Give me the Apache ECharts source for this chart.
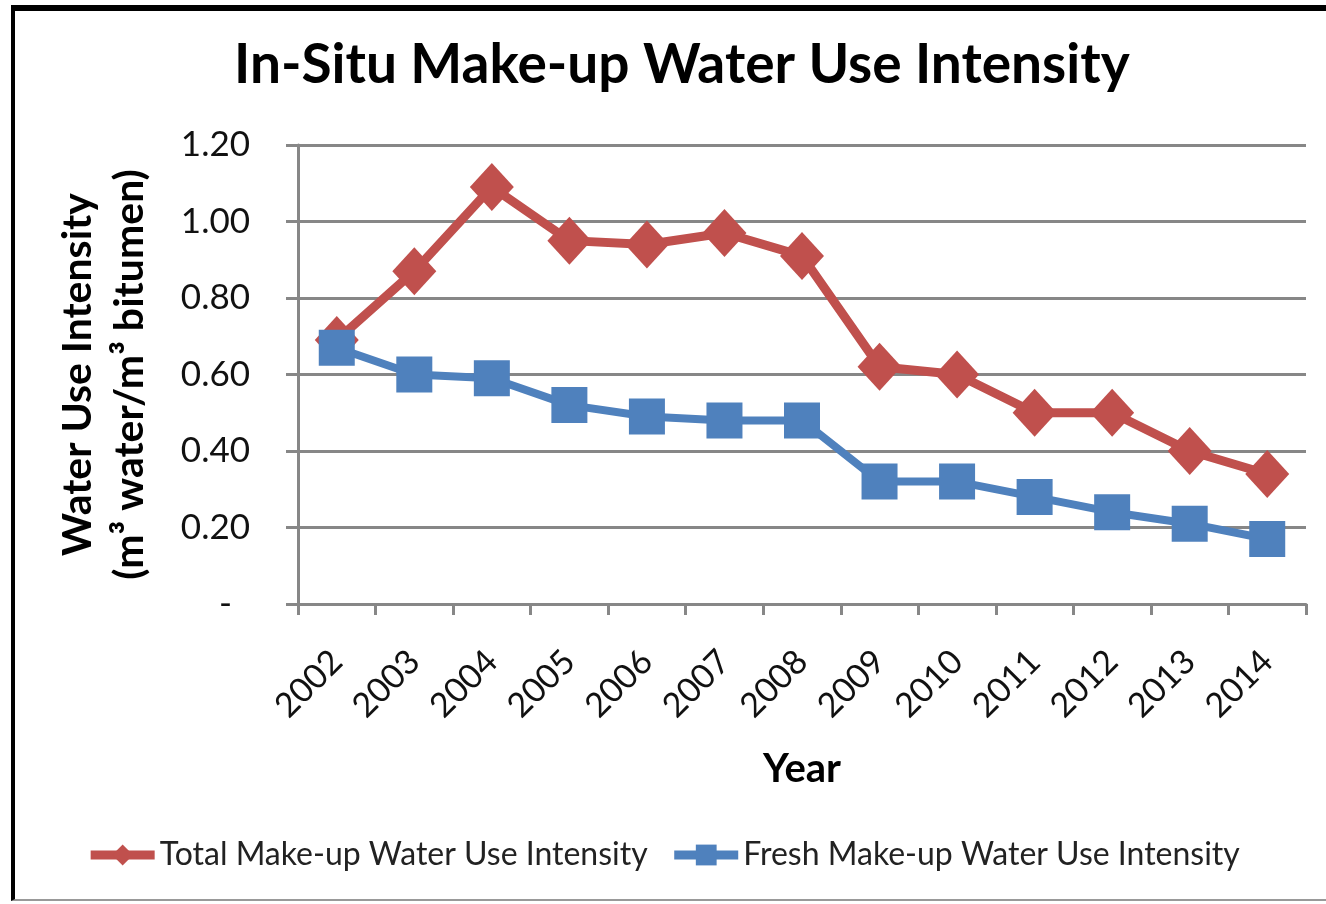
<!DOCTYPE html>
<html>
<head>
<meta charset="utf-8">
<script src="https://cdn.jsdelivr.net/npm/echarts@6/dist/echarts.min.js"></script>
<style>
  html, body { margin: 0; padding: 0; background: #fff; }
  #chart { position: absolute; left: 0; top: 0; width: 1326px; height: 904px; }
  .frame {
    position: absolute; left: 11px; top: 5px; width: 1315px; height: 896px;
    border-top: 6px solid #000; border-left: 4px solid #000; border-bottom: 2px solid #999;
    box-sizing: border-box; pointer-events: none;
  }
</style>
</head>
<body>
<div id="chart"></div>
<div class="frame"></div>
<script>
const years = ['2002', '2003', '2004', '2005', '2006', '2007', '2008', '2009', '2010', '2011', '2012', '2013', '2014']
const totalIntensity = [0.69, 0.87, 1.09, 0.95, 0.94, 0.97, 0.91, 0.62, 0.60, 0.50, 0.50, 0.40, 0.34]
const freshIntensity = [0.67, 0.60, 0.59, 0.52, 0.49, 0.48, 0.48, 0.32, 0.32, 0.28, 0.24, 0.21, 0.17]
const yTicks = [0, 0.2, 0.4, 0.6, 0.8, 1.0, 1.2]
const yTickLabels = ['-  ', '0.20', '0.40', '0.60', '0.80', '1.00', '1.20']

const font = 'Lato, "Open Sans", sans-serif'
const gridGray = '#878787'

const chart = echarts.init(document.getElementById('chart'))

chart.setOption({
  animation: false,
  title: {
    text: 'In-Situ Make-up Water Use Intensity',
    left: 234,
    top: 38,
    padding: 0,
    textStyle: { fontFamily: font, fontWeight: 'bold', fontSize: 55, color: '#000' }
  },
  grid: { left: 298, right: 20, top: 145, bottom: 300 },
  legend: {
    bottom: 28,
    left: 'center',
    itemWidth: 64,
    itemHeight: 26,
    itemGap: 22,
    lineStyle: { width: 9 },
    textStyle: { fontFamily: font, fontSize: 32, color: '#222' },
    data: ['Total Make-up Water Use Intensity', 'Fresh Make-up Water Use Intensity']
  },
  xAxis: {
    type: 'category',
    data: years,
    boundaryGap: true,
    name: 'Year',
    nameLocation: 'middle',
    nameGap: 145,
    nameTextStyle: { fontFamily: font, fontWeight: 'bold', fontSize: 40, color: '#000' },
    axisLine: { lineStyle: { color: gridGray, width: 3 } },
    axisTick: { show: true, length: 11, lineStyle: { color: gridGray, width: 3 } },
    axisLabel: { rotate: 45, margin: 52, fontFamily: font, fontSize: 34, color: '#111' }
  },
  yAxis: {
    type: 'value',
    min: 0,
    max: 1.2,
    interval: 0.2,
    name: 'Water Use Intensity\n(m³ water/m³ bitumen)',
    nameLocation: 'middle',
    nameRotate: 90,
    nameGap: 142,
    nameTextStyle: { fontFamily: font, fontWeight: 'bold', fontSize: 41, color: '#000', lineHeight: 52 },
    axisLine: { show: true, lineStyle: { color: gridGray, width: 3 } },
    axisTick: { show: true, length: 12, lineStyle: { color: gridGray, width: 3 } },
    splitLine: { lineStyle: { color: gridGray, width: 3 } },
    axisLabel: {
      margin: 48,
      fontFamily: font,
      fontSize: 35,
      color: '#111',
      formatter: v => yTickLabels[yTicks.findIndex(t => Math.abs(t - v) < 1e-6)]
    }
  },
  series: [
    {
      name: 'Total Make-up Water Use Intensity',
      type: 'line',
      data: totalIntensity,
      symbol: 'diamond',
      symbolSize: [44, 48],
      lineStyle: { color: '#C0504D', width: 9 },
      itemStyle: { color: '#C0504D' },
      z: 2
    },
    {
      name: 'Fresh Make-up Water Use Intensity',
      type: 'line',
      data: freshIntensity,
      symbol: 'rect',
      symbolSize: 36,
      lineStyle: { color: '#4F81BD', width: 8 },
      itemStyle: { color: '#4F81BD' },
      z: 3
    }
  ]
})
</script>
</body>
</html>
